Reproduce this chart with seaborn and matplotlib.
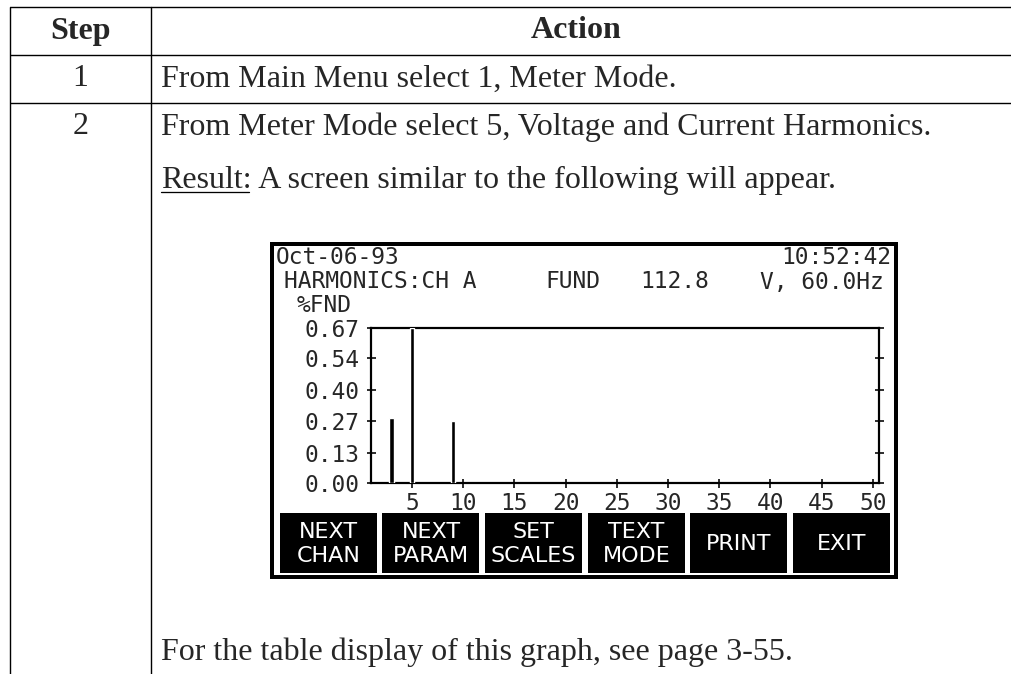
import matplotlib
matplotlib.use("Agg")
import matplotlib.pyplot as plt
import seaborn as sns
import pandas as pd
from matplotlib.patches import Rectangle

# ---------------- data ----------------
header = ["Step", "Action"]
steps = ["1", "2"]
actions = ["From Main Menu select 1, Meter Mode.",
           "From Meter Mode select 5, Voltage and Current Harmonics."]
result_label = "Result:"
result_text = " A screen similar to the following will appear."
footer_text = "For the table display of this graph, see page 3-55."

screen_date = "Oct-06-93"
screen_time = "10:52:42"
screen_title = "HARMONICS:CH A"
fund_label = "FUND"
fund_value = "112.8"
fund_units = "V, 60.0Hz"
y_unit = "%FND"

harmonics = [3, 5, 9]
pct_fund = [0.28, 0.67, 0.27]
y_ticks = [0.00, 0.13, 0.27, 0.40, 0.54, 0.67]
y_tick_labels = ["0.00", "0.13", "0.27", "0.40", "0.54", "0.67"]
x_ticks = [5, 10, 15, 20, 25, 30, 35, 40, 45, 50]
buttons = ["NEXT\nCHAN", "NEXT\nPARAM", "SET\nSCALES", "TEXT\nMODE", "PRINT", "EXIT"]

# ---------------- figure ----------------
sns.set_style("white")
plt.rcParams["font.family"] = ["DejaVu Sans"]
W, H = 1012, 674
fig = plt.figure(figsize=(W / 100, H / 100), dpi=100)
PX = 0.72  # px -> pt

bg = fig.add_axes([0, 0, 1, 1])
bg.set_xlim(0, W)
bg.set_ylim(H, 0)
bg.axis("off")

serif = "Liberation Serif"
mono = "DejaVu Sans Mono"
fs_table = 23

# table lines
lw_t = 1.4 * PX
for y in [7, 55, 103]:
    bg.plot([10, W], [y, y], color="black", lw=lw_t, solid_capstyle="butt")
bg.plot([10, 10], [7, H], color="black", lw=lw_t)
bg.plot([151, 151], [7, H], color="black", lw=lw_t)

bg.text(80.5, 31, header[0], fontfamily=serif, fontweight="bold", fontsize=fs_table,
        ha="center", va="center")
bg.text(576, 31, header[1], fontfamily=serif, fontweight="bold", fontsize=fs_table,
        ha="center", va="center")
row_y = [79, 127]
for s, a, y in zip(steps, actions, row_y):
    bg.text(80.5, y, s, fontfamily=serif, fontsize=fs_table, ha="center", va="center")
    bg.text(161, y, a, fontfamily=serif, fontsize=fs_table, ha="left", va="center")

res_y = 180
t_res = bg.text(161, res_y, result_label, fontfamily=serif, fontsize=fs_table,
                ha="left", va="center")
fig.canvas.draw()
r = fig.canvas.get_renderer()
bb = t_res.get_window_extent(r)
inv = bg.transData.inverted()
(x0, y0b), (x1, _) = inv.transform([(bb.x0, bb.y0), (bb.x1, bb.y0)])
bg.text(x1, res_y, result_text, fontfamily=serif, fontsize=fs_table, ha="left", va="center")
bg.plot([x0, x1 - 3], [y0b - 3, y0b - 3], color="black", lw=1.3 * PX)

bg.text(161, 652, footer_text, fontfamily=serif, fontsize=fs_table, ha="left", va="center")

# LCD screen frame
bg.add_patch(Rectangle((272, 244), 624, 333, facecolor="white", edgecolor="black",
                       lw=4 * PX, zorder=2))
fs_lcd = 16.5
bg.text(276, 257, screen_date, fontfamily=mono, fontsize=fs_lcd, ha="left", va="center", zorder=3)
bg.text(891, 257, screen_time, fontfamily=mono, fontsize=fs_lcd, ha="right", va="center", zorder=3)
bg.text(284, 282, screen_title, fontfamily=mono, fontsize=fs_lcd, ha="left", va="center", zorder=3)
bg.text(545, 282, fund_label, fontfamily=mono, fontsize=fs_lcd, ha="left", va="center", zorder=3)
bg.text(640, 282, fund_value, fontfamily=mono, fontsize=fs_lcd, ha="left", va="center", zorder=3)
bg.text(884, 282, fund_units, fontfamily=mono, fontsize=fs_lcd, ha="right", va="center", zorder=3)
bg.text(297, 306, y_unit, fontfamily=mono, fontsize=fs_lcd, ha="left", va="center", zorder=3)

# soft-key buttons
btn_left = [280, 382.5, 485, 588, 690.5, 793]
for lab, xl in zip(buttons, btn_left):
    bg.add_patch(Rectangle((xl, 513), 97, 60, facecolor="black", edgecolor="none", zorder=3))
    bg.text(xl + 48.5, 544, lab, color="white", fontfamily="DejaVu Sans", fontsize=16,
            ha="center", va="center", linespacing=1.2, zorder=4)

# ---------------- chart ----------------
ax_l, ax_r, ax_t, ax_b = 371, 879, 328, 483
ax = fig.add_axes([ax_l / W, 1 - ax_b / H, (ax_r - ax_l) / W, (ax_b - ax_t) / H])
df = pd.DataFrame({"harmonic": harmonics, "pct": pct_fund})
sns.barplot(data=df, x="harmonic", y="pct", native_scale=True, width=0.21,
            color="black", saturation=1, ax=ax, zorder=3)
ax.set_xlim(1, 50.6)
ax.set_ylim(0, 0.67)
ax.set_xlabel("")
ax.set_ylabel("")
ax.set_facecolor("none")
for sp in ax.spines.values():
    sp.set_visible(True)
    sp.set_color("black")
    sp.set_linewidth(2.2 * PX)
ax.set_yticks(y_ticks)
ax.set_yticklabels(y_tick_labels, fontfamily=mono, fontsize=fs_lcd)
ax.set_xticks(x_ticks)
ax.set_xticklabels([str(v) for v in x_ticks], fontfamily=mono, fontsize=fs_lcd)
ax.tick_params(axis="y", which="both", direction="inout", length=9 * PX, width=1.6 * PX,
               left=True, right=True, labelleft=True, labelright=False, pad=7 * PX,
               color="black")
ax.tick_params(axis="x", which="both", direction="inout", length=9 * PX, width=1.6 * PX,
               bottom=True, top=False, pad=4 * PX, color="black")
ax.grid(False)

fig.savefig("out.png", dpi=100)
